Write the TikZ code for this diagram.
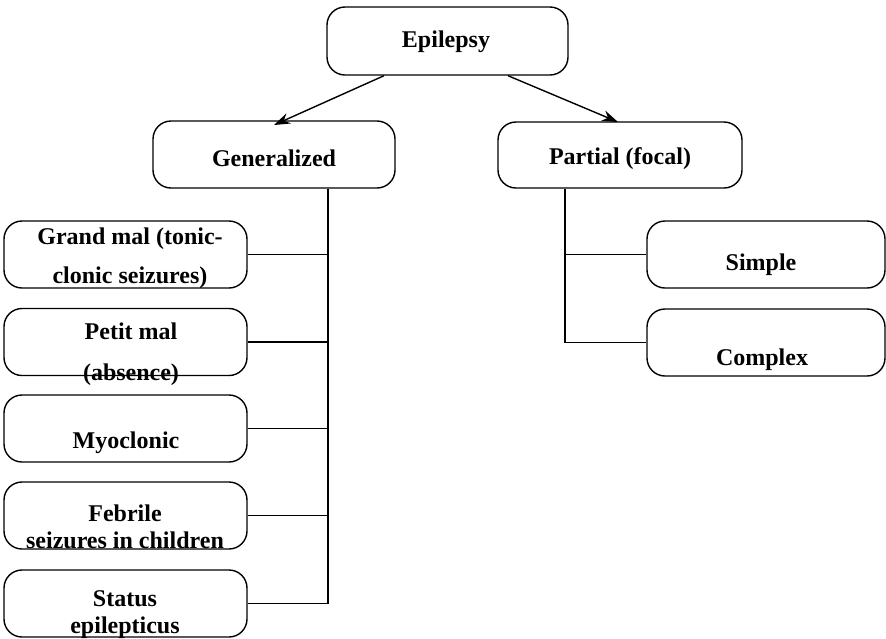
\documentclass[tikz,border=0pt]{standalone}
\usepackage{fontspec}
\setmainfont{Liberation Serif}
\usetikzlibrary{positioning,arrows.meta}

\begin{document}
\begin{tikzpicture}[x=1pt,y=-1pt,line width=1.4pt,
  box/.style={draw,rounded corners=18pt,minimum width=243pt,minimum height=67pt,inner sep=0pt},
  txt/.style={font=\fontsize{24}{27}\selectfont\bfseries,align=center,inner sep=0pt},
  every node/.append style={font=\fontsize{24}{27}\selectfont\bfseries}]
\useasboundingbox (0,0) rectangle (886,638);
% top levels
\node[box,minimum width=241pt,minimum height=68pt] (epi) at (447.5,41) {};
\node[box,minimum width=242pt] (gen) at (274,154.5) {};
\node[box,minimum width=244pt,minimum height=66pt] (par) at (620,155) {};
\node[txt] (epi-t) at (446,42) {Epilepsy};
\node[txt] (gen-t) at (274,158) {Generalized};
\node[txt] (par-t) at (620,159) {Partial (focal)};
% generalized types
\node[box] (grand) at (125.5,254.5) {};
\node[box] (petit) at (125.5,342) {};
\node[box] (myo) at (125.5,428.5) {};
\node[box] (feb) at (125.5,515.5) {};
\node[box] (stat) at (125.5,603.5) {};
\node[txt] (grand-t) at (130,258) {Grand mal (tonic-\\[12pt]clonic seizures)};
\node[txt] (petit-t) at (131,354) {Petit mal\\[14pt](absence)};
\node[txt] (myo-t) at (126,443) {Myoclonic};
\node[txt] (feb-t) at (125,527) {Febrile\\seizures in children};
\node[txt] (stat-t) at (125,615) {Status\\epilepticus};
% partial types
\node[box,minimum width=238pt] (simple) at (766,254.5) {};
\node[box,minimum width=238pt] (complex) at (766,342.5) {};
\node[txt] (simple-t) at (761,265) {Simple};
\node[txt] (complex-t) at (762,360) {Complex};
% connectors
\coordinate (gbus) at (328,603.5);
\coordinate (pbus) at (565,342.5);
\draw[-{Stealth[length=16pt,width=11pt]}] (epi.south -| 384,0) -- (274,125);
\draw[-{Stealth[length=16pt,width=11pt]}] (epi.south -| 508,0) -- (618,122);
\draw (gen.south -| gbus) -- (gbus) -- (stat.east);
\draw (grand.east) -- (grand.east -| gbus);
\draw (petit.east) -- (petit.east -| gbus);
\draw (myo.east) -- (myo.east -| gbus);
\draw (feb.east) -- (feb.east -| gbus);
\draw (par.south -| pbus) -- (pbus) -- (complex.west);
\draw (simple.west -| pbus) -- (simple.west);
\end{tikzpicture}
\end{document}
